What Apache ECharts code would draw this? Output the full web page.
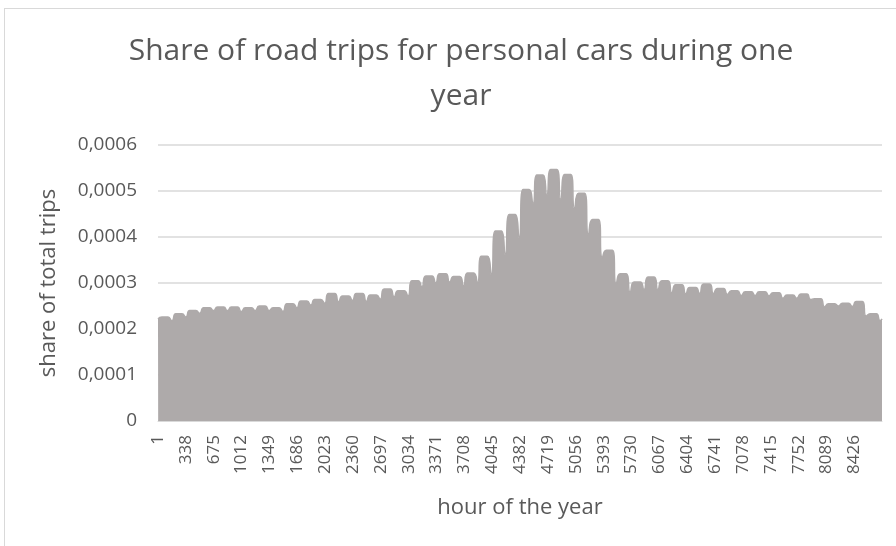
<!DOCTYPE html>
<html>
<head>
<meta charset="utf-8">
<script src="https://cdn.jsdelivr.net/npm/echarts@6/dist/echarts.min.js"></script>
<style>
  html, body { margin: 0; padding: 0; background: #fff; }
  #frame { position: absolute; left: 4px; top: 8px; width: 920px; height: 600px; border: 1px solid #d9d9d9; }
  #chart { position: absolute; left: 0; top: 0; width: 896px; height: 546px; }
</style>
</head>
<body>
<div id="frame"></div>
<div id="chart"></div>
<script>
// peak of each week (53 weeks)
var weekPeak = [
  0.000226, 0.000233, 0.000240, 0.000246, 0.000248, 0.000248, 0.000246, 0.000250, 0.000246, 0.000255,
  0.000261, 0.000264, 0.000277, 0.000272, 0.000277, 0.000274, 0.000287, 0.000283, 0.000305, 0.000315,
  0.000320, 0.000314, 0.000322, 0.000358, 0.000413, 0.000449, 0.000503, 0.000535, 0.000547, 0.000536,
  0.000495, 0.000438, 0.000371, 0.000320, 0.000302, 0.000313, 0.000305, 0.000296, 0.000290, 0.000298,
  0.000288, 0.000283, 0.000281, 0.000281, 0.000279, 0.000274, 0.000276, 0.000266, 0.000255, 0.000256,
  0.000260, 0.000233, 0.000224
];
// dip at the start of each week (weekend notch)
var weekDip = [
  0.000222, 0.000218, 0.000226, 0.000234, 0.000240, 0.000240, 0.000238, 0.000240, 0.000240, 0.000238,
  0.000246, 0.000252, 0.000256, 0.000259, 0.000262, 0.000260, 0.000265, 0.000270, 0.000272, 0.000292,
  0.000300, 0.000302, 0.000294, 0.000300, 0.000318, 0.000362, 0.000398, 0.000472, 0.000492, 0.000482,
  0.000462, 0.000405, 0.000355, 0.000298, 0.000280, 0.000286, 0.000286, 0.000279, 0.000276, 0.000277,
  0.000277, 0.000275, 0.000273, 0.000273, 0.000272, 0.000267, 0.000267, 0.000264, 0.000248, 0.000250,
  0.000249, 0.000228, 0.000218
];
var lastHourValue = 0.000222;

// categories: hours of the year
var hours = [];
for (var h = 1; h <= 8760; h++) hours.push(String(h));

// place weekly dip / peak values on the hour axis
var values = new Array(8760).fill(null);
for (var w = 0; w < weekPeak.length; w++) {
  var start = w * 168;
  values[start] = weekDip[w];
  if (start + 48 < 8760) values[start + 48] = weekPeak[w];
  if (start + 122 < 8760) values[start + 122] = weekPeak[w];
}
values[8759] = lastHourValue;

var chart = echarts.init(document.getElementById('chart'));
var option = {
  animation: false,
  title: {
    text: 'Share of road trips for personal cars during one\nyear',
    left: 456,
    top: 24,
    textAlign: 'center',
    textStyle: {
      fontFamily: 'Open Sans',
      fontSize: 30,
      fontWeight: 'normal',
      color: '#595959',
      lineHeight: 45
    }
  },
  grid: { left: 158, right: 14, top: 145, bottom: 125, containLabel: false },
  xAxis: {
    type: 'category',
    data: hours,
    boundaryGap: false,
    name: 'hour of the year',
    nameLocation: 'middle',
    nameGap: 76,
    nameTextStyle: { fontFamily: 'Open Sans', fontSize: 22, color: '#595959' },
    axisLine: { show: true, lineStyle: { color: '#d9d9d9' } },
    axisTick: { show: false },
    axisLabel: {
      interval: 336,
      rotate: 90,
      margin: 14,
      fontFamily: 'Open Sans',
      fontSize: 17,
      color: '#595959'
    },
    splitLine: { show: false }
  },
  yAxis: {
    type: 'value',
    min: 0,
    max: 0.0006,
    interval: 0.0001,
    name: 'share of total trips',
    nameLocation: 'middle',
    nameGap: 98,
    nameTextStyle: { fontFamily: 'Open Sans', fontSize: 22, color: '#595959' },
    axisLine: { show: false },
    axisTick: { show: false },
    axisLabel: {
      margin: 21,
      fontFamily: 'Open Sans',
      fontSize: 19,
      color: '#595959',
      formatter: function (v) {
        return v === 0 ? '0' : v.toFixed(4).replace('.', ',');
      }
    },
    splitLine: { lineStyle: { color: '#d9d9d9', width: 1.5 } }
  },
  series: [{
    type: 'line',
    data: values,
    connectNulls: true,
    showSymbol: false,
    smooth: 0.6,
    lineStyle: { color: '#aeaaaa', width: 1.5 },
    areaStyle: { color: '#aeaaaa', opacity: 1 },
    itemStyle: { color: '#aeaaaa' }
  }]
};
chart.setOption(option);
</script>
</body>
</html>
